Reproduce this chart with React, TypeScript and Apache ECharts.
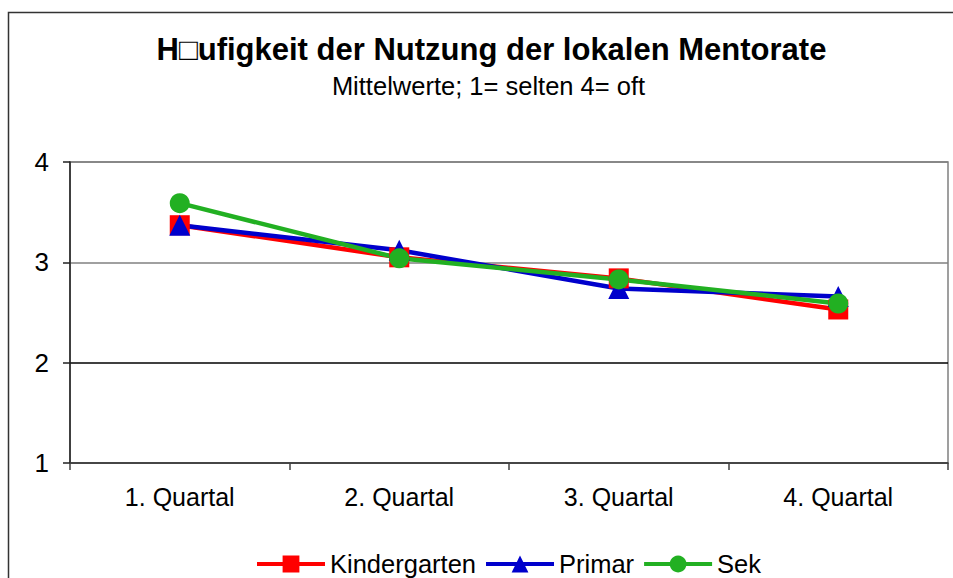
import React, { useEffect, useRef } from "react";
import * as echarts from "echarts";

const categories = ["1. Quartal", "2. Quartal", "3. Quartal", "4. Quartal"];
const kindergarten = [3.37, 3.05, 2.84, 2.53];
const primar = [3.37, 3.12, 2.74, 2.66];
const sek = [3.59, 3.04, 2.83, 2.59];
const titleText = "H\u25A1ufigkeit der Nutzung der lokalen Mentorate";
const subtitleText = "Mittelwerte; 1= selten 4= oft";

const FONT = "'Liberation Sans', Arial, sans-serif";

export default function App() {
  const ref = useRef<HTMLDivElement>(null);
  useEffect(() => {
    if (!ref.current) return;
    const chart = echarts.init(ref.current, undefined, { renderer: "svg" });
    const mk = (name: string, data: number[], color: string, symbol: string, size: number) => ({
      name,
      type: "line",
      data,
      symbol,
      symbolSize: size,
      showSymbol: true,
      itemStyle: { color },
      lineStyle: { color, width: 4.5 },
    });
    chart.setOption({
      animation: false,
      backgroundColor: "#ffffff",
      textStyle: { fontFamily: FONT },
      graphic: [
        {
          type: "rect",
          shape: { x: 8.5, y: 12.5, width: 1200, height: 1200 },
          style: { fill: "none", stroke: "#333", lineWidth: 1.5 },
          silent: true,
        },
        {
          type: "text",
          x: 491.5,
          y: 49,
          style: {
            text: titleText,
            fontFamily: FONT,
            fontSize: 31,
            fontWeight: "bold",
            fill: "#000",
            align: "center",
            verticalAlign: "middle",
          },
        },
        {
          type: "text",
          x: 488.5,
          y: 86,
          style: {
            text: subtitleText,
            fontFamily: FONT,
            fontSize: 25.5,
            fill: "#000",
            align: "center",
            verticalAlign: "middle",
          },
        },
      ],
      legend: {
        left: 250,
        top: 546,
        itemWidth: 68,
        itemHeight: 21,
        itemGap: 8,
        lineStyle: { width: 4 },
        textStyle: { fontFamily: FONT, fontSize: 25.5, color: "#000" },
        data: ["Kindergarten", "Primar", "Sek"],
      },
      grid: {
        left: 70,
        top: 162,
        right: 5,
        bottom: 115,
        show: true,
        borderColor: "#808080",
        borderWidth: 1.5,
        backgroundColor: "#ffffff",
      },
      xAxis: {
        type: "category",
        data: categories,
        boundaryGap: true,
        axisLine: { lineStyle: { color: "#404040", width: 1.5 } },
        axisTick: { show: true, length: 7, alignWithLabel: false, lineStyle: { color: "#404040", width: 1.5 } },
        axisLabel: { fontFamily: FONT, fontSize: 25, color: "#000", margin: 21 },
        splitLine: { show: false },
      },
      yAxis: {
        type: "value",
        min: 1,
        max: 4,
        interval: 1,
        axisLine: { show: true, lineStyle: { color: "#202020", width: 1.5 } },
        axisTick: { show: true, length: 7, lineStyle: { color: "#202020", width: 1.5 } },
        axisLabel: { fontFamily: FONT, fontSize: 26, color: "#000", margin: 21 },
        splitLine: { show: true, lineStyle: { color: ["#404040", "#000", "#808080", "#808080"], width: 1.5 } },
      },
      series: [
        mk("Kindergarten", kindergarten, "#ff0000", "rect", 20),
        mk("Primar", primar, "#0000cc", "triangle", 21),
        mk("Sek", sek, "#22b022", "circle", 20),
      ],
    });
    return () => chart.dispose();
  }, []);
  return (
    <div
      ref={ref}
      style={{ position: "fixed", left: 0, top: 0, width: 953, height: 578 }}
    />
  );
}
